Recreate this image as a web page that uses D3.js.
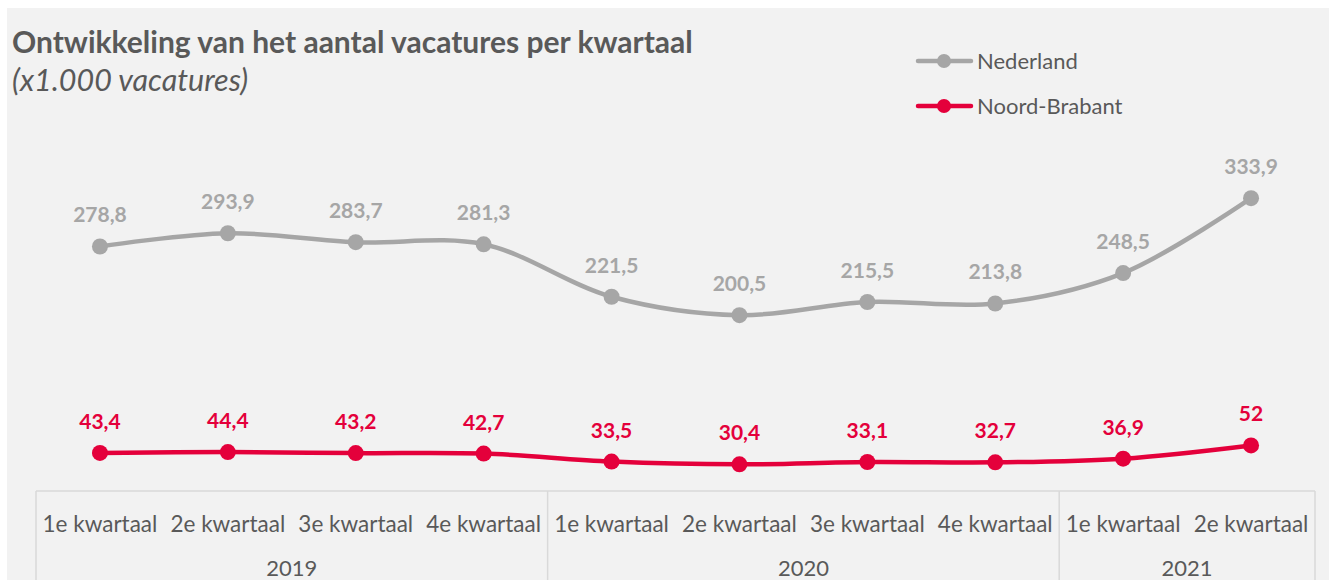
<!DOCTYPE html>
<html><head><meta charset="utf-8">
<script src="https://cdn.jsdelivr.net/npm/d3@7"></script>
<style>
html,body{margin:0;padding:0;background:#fff;}
svg{display:block;}
text{font-family:Lato,"Open Sans",sans-serif;}
</style></head>
<body>
<svg id="c" width="1329" height="580"></svg>
<script>
const quarters = ["1e kwartaal","2e kwartaal","3e kwartaal","4e kwartaal","1e kwartaal","2e kwartaal","3e kwartaal","4e kwartaal","1e kwartaal","2e kwartaal"];
const years = ["2019","2019","2019","2019","2020","2020","2020","2020","2021","2021"];
const nederland = [278.8,293.9,283.7,281.3,221.5,200.5,215.5,213.8,248.5,333.9];
const noordBrabant = [43.4,44.4,43.2,42.7,33.5,30.4,33.1,32.7,36.9,52];
const seriesNames = ["Nederland","Noord-Brabant"];
const colors = ["#a6a6a6","#e4003b"];

const svg = d3.select("#c");
svg.append("rect").attr("x",7).attr("y",8).attr("width",1322).attr("height",572).attr("fill","#f2f2f2");

const left = 36, right = 1315;
const idx = d3.range(quarters.length);
const x = d3.scaleBand().domain(idx).range([left,right]).padding(0);
const y = d3.scaleLinear().domain([0,400]).range([491,140.2]);
const cx = i => x(i) + x.bandwidth()/2;

// axis box
const axisG = svg.append("g");
const grid = "#d9d9d9";
axisG.append("line").attr("x1",left).attr("x2",right).attr("y1",y(0)).attr("y2",y(0)).attr("stroke",grid).attr("stroke-width",1.5);
const yearGroups = d3.groups(idx, i => years[i]);
const bounds = [left];
yearGroups.forEach(([yr, arr]) => bounds.push(x(arr[arr.length-1]) + x.bandwidth()));
bounds.forEach(b => axisG.append("line").attr("x1",b).attr("x2",b).attr("y1",y(0)).attr("y2",580).attr("stroke",grid).attr("stroke-width",1.5));
axisG.selectAll("text.q").data(idx).enter().append("text")
  .attr("x",i=>cx(i)).attr("y",532).attr("text-anchor","middle")
  .attr("font-size",22.5).attr("fill","#595959").text(i=>quarters[i]);
yearGroups.forEach(([yr, arr]) => {
  const m = (x(arr[0]) + x(arr[arr.length-1]) + x.bandwidth())/2;
  axisG.append("text").attr("x",m).attr("y",576).attr("text-anchor","middle")
    .attr("font-size",22).attr("fill","#595959").text(yr);
});

const line = d3.line().x((d,i)=>cx(i)).y(d=>y(d)).curve(d3.curveCatmullRom.alpha(0.5));
[nederland, noordBrabant].forEach((vals, s) => {
  const g = svg.append("g");
  g.append("path").attr("d", line(vals)).attr("fill","none").attr("stroke",colors[s]).attr("stroke-width",4.5).attr("stroke-linecap","round");
  g.selectAll("circle").data(vals).enter().append("circle")
    .attr("cx",(d,i)=>cx(i)).attr("cy",d=>y(d)).attr("r",8).attr("fill",colors[s]);
  g.selectAll("text").data(vals).enter().append("text")
    .attr("x",(d,i)=>cx(i)).attr("y",d=>y(d)-24).attr("text-anchor","middle")
    .attr("font-size",21).attr("font-weight","bold").attr("fill",colors[s])
    .text(d=>String(d).replace(".",","));
});

// title
svg.append("text").attr("x",12).attr("y",53).attr("font-size",30).attr("font-weight","bold").attr("fill","#595959")
  .text("Ontwikkeling van het aantal vacatures per kwartaal");
svg.append("text").attr("x",12).attr("y",91).attr("font-size",30.5).attr("font-style","italic").attr("fill","#595959")
  .text("(x1.000 vacatures)");

// legend
seriesNames.forEach((n, s) => {
  const ly = 61 + s*45;
  const lg = svg.append("g");
  lg.append("line").attr("x1",918).attr("x2",971).attr("y1",ly).attr("y2",ly).attr("stroke",colors[s]).attr("stroke-width",4.5).attr("stroke-linecap","round");
  lg.append("circle").attr("cx",944).attr("cy",ly).attr("r",7).attr("fill",colors[s]);
  lg.append("text").attr("x",977).attr("y",ly+8).attr("font-size",22).attr("fill","#595959").text(n);
});
</script>
</body></html>
